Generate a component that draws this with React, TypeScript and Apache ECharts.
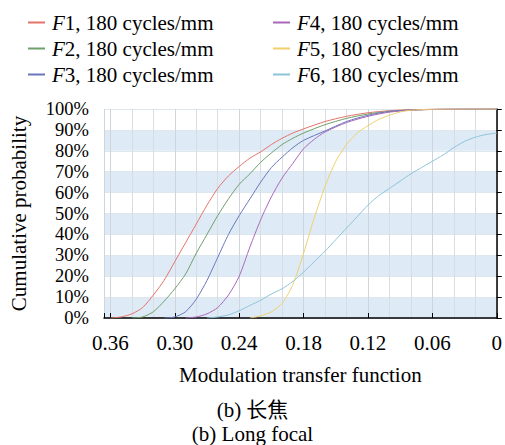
import React, { useEffect, useRef } from "react";
import * as echarts from "echarts";

const FONT = "Liberation Serif";
const FS = 21;

const seriesNames = [
  "F1, 180 cycles/mm",
  "F2, 180 cycles/mm",
  "F3, 180 cycles/mm",
  "F4, 180 cycles/mm",
  "F5, 180 cycles/mm",
  "F6, 180 cycles/mm",
];
const seriesColors = ["#e57368", "#6f9f6a", "#6877bd", "#a868b8", "#f0cf6c", "#8cc4d6"];

const xTicks = [0.36, 0.3, 0.24, 0.18, 0.12, 0.06, 0];
const yTicks = [0, 10, 20, 30, 40, 50, 60, 70, 80, 90, 100];

// F1
const mtfF1 = [0.36, 0.35, 0.34, 0.33, 0.32, 0.31, 0.3, 0.29, 0.28, 0.27, 0.26, 0.25, 0.24, 0.23, 0.22, 0.21, 0.2, 0.19, 0.18, 0.16, 0.14, 0.12, 0.1, 0.08, 0.05, 0];
const probF1 = [0, 0.5, 2, 5, 11, 18, 27, 36, 45, 54, 62, 68, 72.5, 76.5, 79.5, 83, 86, 88.5, 90.5, 94, 96.5, 98.2, 99.2, 99.7, 99.9, 100];
// F2
const mtfF2 = [0.34, 0.33, 0.32, 0.31, 0.3, 0.29, 0.28, 0.27, 0.26, 0.25, 0.24, 0.23, 0.22, 0.21, 0.2, 0.19, 0.18, 0.16, 0.14, 0.12, 0.1, 0.08, 0.05, 0];
const probF2 = [0, 0.5, 3, 8, 14, 21, 31, 40, 49, 57, 64, 69, 74.5, 79, 83, 86, 88.5, 92.5, 95.5, 97.6, 98.9, 99.5, 99.9, 100];
// F3
const mtfF3 = [0.31, 0.3, 0.29, 0.28, 0.27, 0.26, 0.25, 0.24, 0.23, 0.22, 0.21, 0.2, 0.19, 0.18, 0.16, 0.14, 0.12, 0.1, 0.08, 0.05, 0];
const probF3 = [0, 0.5, 3, 9, 18, 29, 40, 49, 57, 65, 72, 77, 81.5, 85, 89.5, 94, 97, 98.8, 99.5, 99.9, 100];
// F4
const mtfF4 = [0.29, 0.28, 0.27, 0.26, 0.25, 0.24, 0.23, 0.22, 0.21, 0.2, 0.19, 0.18, 0.17, 0.16, 0.14, 0.12, 0.1, 0.08, 0.05, 0];
const probF4 = [0, 0.5, 2, 5, 11, 20, 34, 47, 58, 67, 74, 81, 85.5, 89, 93.5, 96.5, 98.5, 99.4, 99.9, 100];
// F5
const mtfF5 = [0.23, 0.22, 0.21, 0.2, 0.19, 0.18, 0.17, 0.16, 0.15, 0.14, 0.13, 0.12, 0.11, 0.1, 0.09, 0.08, 0.06, 0];
const probF5 = [0, 1, 3, 7, 16, 31, 48, 63, 75, 83, 88.5, 92, 95, 97, 98.6, 99.4, 99.9, 100];
// F6
const mtfF6 = [0.27, 0.26, 0.25, 0.24, 0.23, 0.22, 0.21, 0.2, 0.19, 0.18, 0.17, 0.16, 0.15, 0.14, 0.13, 0.12, 0.11, 0.1, 0.09, 0.08, 0.07, 0.06, 0.05, 0.04, 0.03, 0.02, 0.01, 0];
const probF6 = [0, 0.5, 1.5, 3.5, 6, 8.5, 11.5, 14, 17.5, 22, 27, 32, 37.5, 43, 48.5, 54, 58.5, 62, 65.5, 69, 72, 75, 78, 81.5, 84.5, 86.5, 87.8, 88.5];

const mtfAll = [mtfF1, mtfF2, mtfF3, mtfF4, mtfF5, mtfF6];
const probAll = [probF1, probF2, probF3, probF4, probF5, probF6];

export default function App() {
  const ref = useRef<HTMLDivElement>(null);
  useEffect(() => {
    if (!ref.current) return;
    const chart = echarts.init(ref.current, undefined, { renderer: "svg" });
    const legendText = {
      fontSize: FS,
      fontFamily: FONT,
      color: "#000",
      lineHeight: 21,
      padding: [0, 0, 0, 2],
      rich: { i: { fontStyle: "italic", fontSize: FS, fontFamily: FONT, color: "#000", lineHeight: 21 } },
    };
    const fmt = (name: string) => "{i|F}" + name.slice(1);
    const isTick = (v: number) => xTicks.some((t) => Math.abs(t - v) < 1e-6);
    const legendBase = {
      orient: "vertical",
      top: 7,
      itemWidth: 17,
      itemHeight: 2,
      itemGap: 5,
      icon: "rect",
      formatter: fmt,
      textStyle: legendText,
    };
    chart.setOption({
      animation: false,
      textStyle: { fontFamily: FONT },
      legend: [
        { ...legendBase, data: seriesNames.slice(0, 3), left: 23 },
        { ...legendBase, data: seriesNames.slice(3, 6), left: 268 },
      ],
      grid: { left: 104, right: 8, top: 109, bottom: 127, containLabel: false },
      xAxis: {
        type: "value",
        inverse: true,
        min: 0,
        max: 0.366,
        interval: 0.06,
        name: "Modulation transfer function",
        nameLocation: "middle",
        nameGap: 46,
        nameTextStyle: { fontSize: FS, fontFamily: FONT, color: "#000" },
        axisLine: { show: true, lineStyle: { color: "#000", width: 1.5 } },
        axisTick: { show: true, inside: true, length: 5, lineStyle: { color: "#000" } },
        axisLabel: {
          fontSize: FS,
          fontFamily: FONT,
          color: "#000",
          margin: 14,
          formatter: (v: number) => (isTick(v) ? (Math.abs(v) < 1e-9 ? "0" : v.toFixed(2)) : ""),
        },
        splitLine: { show: true, lineStyle: { color: "#cfd5db", width: 1 } },
        minorTick: { show: false, splitNumber: 3 },
        minorSplitLine: { show: true, lineStyle: { color: "#d8dde2", width: 1 } },
      },
      yAxis: {
        type: "value",
        min: 0,
        max: 100,
        interval: 10,
        name: "Cumulative probability",
        nameLocation: "middle",
        nameGap: 75,
        nameTextStyle: { fontSize: FS, fontFamily: FONT, color: "#000" },
        axisLine: { show: true, lineStyle: { color: "#000", width: 1.5 } },
        axisTick: { show: true, inside: true, length: 5, lineStyle: { color: "#000" } },
        axisLabel: {
          fontSize: 18.5,
          fontFamily: FONT,
          color: "#000",
          margin: 15,
          formatter: (v: number) => (yTicks.includes(Math.round(v)) ? Math.round(v) + "%" : ""),
        },
        splitLine: { show: true, lineStyle: { color: "#dfe7ee", width: 1 } },
        splitArea: { show: true, areaStyle: { color: ["#deebf7", "#ffffff"] } },
      },
      series: seriesNames.map((name, i) => ({
        name,
        type: "line",
        data: mtfAll[i].map((x, j) => [x, probAll[i][j]]),
        showSymbol: false,
        symbol: "none",
        smooth: 0.25,
        lineStyle: { color: seriesColors[i], width: 1 },
        itemStyle: { color: seriesColors[i] },
        z: 3,
      })),
      graphic: [
        {
          type: "text",
          left: "center",
          top: 399,
          style: { text: "(b) 长焦", fontSize: FS, fontFamily: "Liberation Serif, Noto Sans CJK SC", fill: "#000" },
        },
        {
          type: "text",
          left: "center",
          top: 423,
          style: { text: "(b) Long focal", fontSize: FS, fontFamily: FONT, fill: "#000" },
        },
      ],
    });
    return () => chart.dispose();
  }, []);
  return (
    <div
      ref={ref}
      style={{ position: "fixed", left: 0, top: 0, width: 505, height: 445, background: "#fff" }}
    />
  );
}
